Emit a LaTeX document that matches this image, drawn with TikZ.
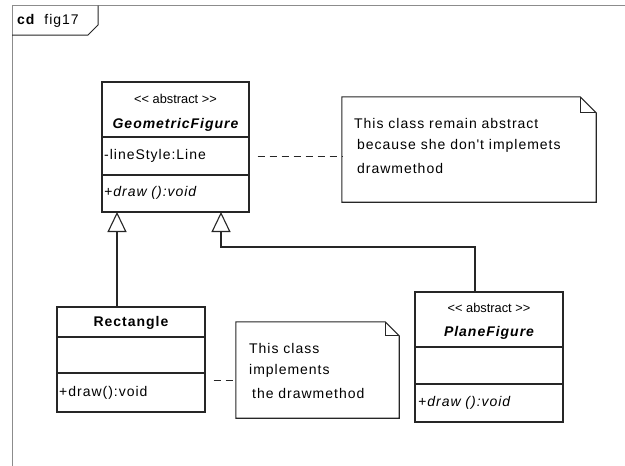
\documentclass[tikz,border=0pt]{standalone}
\usepackage{fontspec}
\setmainfont{Liberation Sans}
\newfontfamily\umlfont[LetterSpace=7]{Liberation Sans}
\newfontfamily\stereofont{Liberation Sans}
\usetikzlibrary{arrows.meta}
\begin{document}
\begin{tikzpicture}[x=1pt,y=-1pt,
  frameline/.style={draw=black!45, line width=1pt},
  edge/.style={draw=black!85, line width=1.1pt},
  classbox/.style={draw=black!85, line width=1.1pt, fill=white, rectangle, inner sep=0pt},
  notebox/.style={rectangle, inner sep=0pt},
  txt/.style={inner sep=0pt, text=black, font=\umlfont\fontsize{14}{16}\selectfont},
  stereo/.style={inner sep=0pt, text=black, font=\stereofont\fontsize{12.8}{15}\selectfont},
  gen/.style={edge, -{Triangle[open, length=20pt, width=19pt]}},
  anchorline/.style={edge, line width=1pt, dash pattern=on 7pt off 5pt},
]
\useasboundingbox (0,0) rectangle (625,466);
\fill[white] (0,0) rectangle (625,466);

% diagram frame and its name tab
\draw[frameline] (12,466) -- (12,5.5) -- (625,5.5);
\draw[edge, line width=1pt] (12,35) -- (88,35) -- (98,25) -- (98,5.5);
\node[txt, anchor=west] (title) at (17,21) {\textbf{cd}\hspace{9pt}fig17};

% classes
\node[classbox, minimum width=147pt, minimum height=130pt] (geo) at (175.5,147) {};
\node[classbox, minimum width=148pt, minimum height=105pt] (rect) at (131,359.5) {};
\node[classbox, minimum width=148pt, minimum height=130pt] (plane) at (489,357) {};

\draw[edge] (geo.west |- 0,137) -- (geo.east |- 0,137);
\draw[edge] (geo.west |- 0,175) -- (geo.east |- 0,175);
\draw[edge] (rect.west |- 0,337) -- (rect.east |- 0,337);
\draw[edge] (rect.west |- 0,373) -- (rect.east |- 0,373);
\draw[edge] (plane.west |- 0,347) -- (plane.east |- 0,347);
\draw[edge] (plane.west |- 0,384) -- (plane.east |- 0,384);

\node[stereo] (geo-st) at (175.5,99) {<< abstract >>};
\node[txt] (geo-name) at (175.5,125) {\bfseries\itshape GeometricFigure};
\node[txt, anchor=west] (geo-attr) at (104,156) {-lineStyle:Line};
\node[txt, anchor=west] (geo-op) at (104,193) {\itshape +draw ():void};

\node[txt] (rect-name) at (131,323) {\bfseries Rectangle};
\node[txt, anchor=west] (rect-op) at (59,393) {+draw():void};

\node[stereo] (plane-st) at (489,308) {<< abstract >>};
\node[txt] (plane-name) at (489,333) {\bfseries\itshape PlaneFigure};
\node[txt, anchor=west] (plane-op) at (418,403) {\itshape +draw ():void};

% notes
\node[notebox, minimum width=254pt, minimum height=105pt] (note1) at (469,149.5) {};
\draw[edge, fill=white] (note1.north west) -- ([xshift=-16pt]note1.north east)
  -- ([yshift=-16pt]note1.north east) -- (note1.south east) -- (note1.south west) -- cycle;
\draw[edge] ([xshift=-16pt]note1.north east) -- ([xshift=-16pt,yshift=-16pt]note1.north east)
  -- ([yshift=-16pt]note1.north east);
\node[txt, anchor=west] (note1-l1) at (354,123) {This class remain abstract};
\node[txt, anchor=west] (note1-l2) at (357,146) {because she don't implemets};
\node[txt, anchor=west] (note1-l3) at (357,168) {drawmethod};

\node[notebox, minimum width=163pt, minimum height=96pt] (note2) at (317.5,370) {};
\draw[edge, fill=white] (note2.north west) -- ([xshift=-14pt]note2.north east)
  -- ([yshift=-14pt]note2.north east) -- (note2.south east) -- (note2.south west) -- cycle;
\draw[edge] ([xshift=-14pt]note2.north east) -- ([xshift=-14pt,yshift=-14pt]note2.north east)
  -- ([yshift=-14pt]note2.north east);
\node[txt, anchor=west] (note2-l1) at (249,348) {This class};
\node[txt, anchor=west] (note2-l2) at (249,371) {implements};
\node[txt, anchor=west] (note2-l3) at (252,393) {the drawmethod};

% generalizations
\coordinate (gin1) at (117,212);
\coordinate (gin2) at (221,212);
\coordinate (pjoin) at (475,247);
\draw[gen] (rect.north -| gin1) -- (gin1);
\draw[gen] (plane.north -| pjoin) -- (pjoin) -| (gin2);

% note anchors
\draw[anchorline, shorten <=8pt] (geo.east |- 0,156) -- (note1.west |- 0,156);
\draw[anchorline, shorten <=8pt] (rect.east |- 0,380) -- (note2.west |- 0,380);
\end{tikzpicture}
\end{document}
